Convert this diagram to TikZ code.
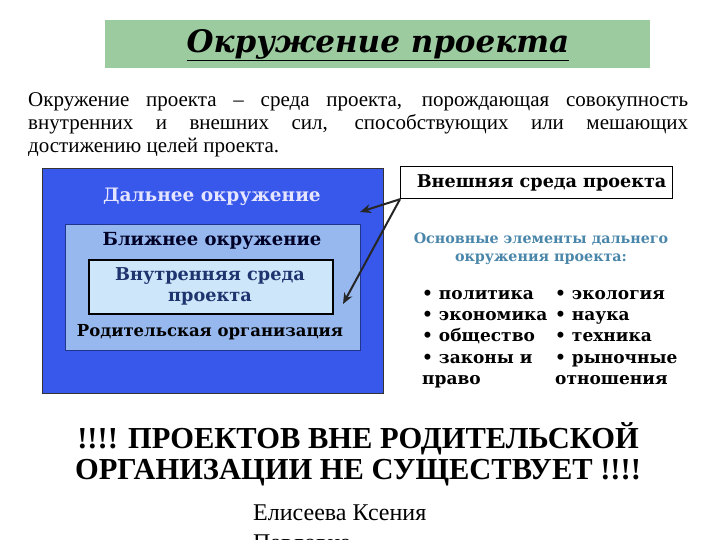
\documentclass[tikz,border=0pt]{standalone}
\usepackage{fontspec}
\setmainfont{Liberation Serif}
\newfontfamily\boxfont{DejaVu Serif}
\usepackage{tikz}
\usetikzlibrary{arrows.meta}

\definecolor{titlegreen}{RGB}{156,203,160}
\definecolor{farblue}{RGB}{56,88,236}
\definecolor{nearblue}{RGB}{150,184,238}
\definecolor{innerblue}{RGB}{206,230,250}
\definecolor{innertext}{RGB}{30,52,110}
\definecolor{steeltext}{RGB}{74,134,170}

\tikzset{
  zone/.style={draw=black!80, line width=0.8pt, anchor=north west, inner sep=0pt},
  boxtext/.style={font=\boxfont\bfseries, inner sep=0.75pt, align=center},
  listitem/.style={font=\boxfont\bfseries\fontsize{17}{20}\selectfont, anchor=base west, inner sep=0pt},
  pointer/.style={draw=black!85, line width=2pt, -{Stealth[length=11pt,width=9pt]}}
}

\begin{document}
\begin{tikzpicture}[x=1pt,y=1pt,yscale=-1,xscale=1]
    \useasboundingbox (0,0) rectangle (720,540);
    \clip (0,0) rectangle (720,540);

    % Title bar
    \node [fill=titlegreen, minimum width=545, minimum height=48, anchor=north west, inner sep=0pt] (titlebar) at (105,20) {};
    \node [font=\boxfont\bfseries\itshape\fontsize{31}{36}\selectfont] (title) at (378,45) {\underline{Окружение проекта}};

    % Definition
    \node [anchor=north west, text width=660, align=justify, inner sep=0pt, font=\fontsize{21}{23}\selectfont] (definition) at (28,92)
      {Окружение проекта – среда проекта, порождающая совокупность\linebreak внутренних и внешних сил, способствующих или мешающих\linebreak достижению целей проекта.};

    % Nested boxes
    \node [zone, fill=farblue, minimum width=341, minimum height=225] (far) at (42,168) {};
    \node [zone, draw=farblue!60!black, fill=nearblue, minimum width=295, minimum height=126] (near) at (65,224) {};
    \node [zone, draw=black, line width=1.6pt, fill=innerblue, minimum width=244, minimum height=54] (inner) at (88,259) {};

    % Text Node
    \node [boxtext, text=white!90!blue, font=\boxfont\bfseries\fontsize{18.5}{20}\selectfont] (farlabel) at (212,197) {Дальнее окружение};
    % Text Node
    \node [boxtext, text=black!85!blue, font=\boxfont\bfseries\fontsize{18}{20}\selectfont] (nearlabel) at (212,241) {Ближнее окружение};
    % Text Node
    \node [boxtext, text=innertext, font=\boxfont\bfseries\fontsize{17.7}{21}\selectfont] (innerlabel) at (210,286) {Внутренняя среда\\проекта};
    % Text Node
    \node [boxtext, text=black, font=\boxfont\bfseries\fontsize{16.5}{19}\selectfont] (parentlabel) at (210,332) {Родительская организация};

    % External environment
    \node [draw=black, line width=1.2pt, fill=white, minimum width=272, minimum height=32, anchor=north west, inner sep=0pt] (ext) at (400,166) {};
    \node [boxtext, font=\boxfont\bfseries\fontsize{17.6}{20}\selectfont] (extlabel) at ([xshift=5pt]ext.center) {Внешняя среда проекта};

    % Pointers
    \coordinate (fartip) at (360,212);
    \coordinate (neartip) at (343,304);
    \draw [pointer] (ext.south west) -- (fartip);
    \draw [pointer] (ext.south west) -- (neartip);

    % Text Node
    \node [boxtext, text=steeltext, font=\boxfont\bfseries\fontsize{14.3}{18}\selectfont] (elements) at (541,249) {Основные элементы дальнего\\окружения проекта:};

    % List
    \node [listitem] (politics) at (422,299) {• политика};
    \node [listitem] (economy) at (422,320) {• экономика};
    \node [listitem] (society) at (422,341) {• общество};
    \node [listitem] (laws) at (422,363) {• законы и};
    \node [listitem] (law) at (422,384) {право};
    \node [listitem] (ecology) at (555,299) {• экология};
    \node [listitem] (science) at (555,320) {• наука};
    \node [listitem] (technics) at (555,341) {• техника};
    \node [listitem] (market) at (555,363) {• рыночные};
    \node [listitem] (relations) at (555,384) {отношения};

    % Conclusion
    \node [font=\bfseries\fontsize{30.5}{31}\selectfont, align=center, inner sep=0pt] (notice) at (358,454) {!!!! ПРОЕКТОВ ВНЕ РОДИТЕЛЬСКОЙ\\ОРГАНИЗАЦИИ НЕ СУЩЕСТВУЕТ !!!!};

    % Author
    \node [font=\fontsize{24}{29}\selectfont, anchor=base west, inner sep=0pt] (author) at (253,520) {Елисеева Ксения};
    \node [font=\fontsize{24}{29}\selectfont, anchor=base west, inner sep=0pt] (patronymic) at (253,550) {Павловна};
\end{tikzpicture}
\end{document}
